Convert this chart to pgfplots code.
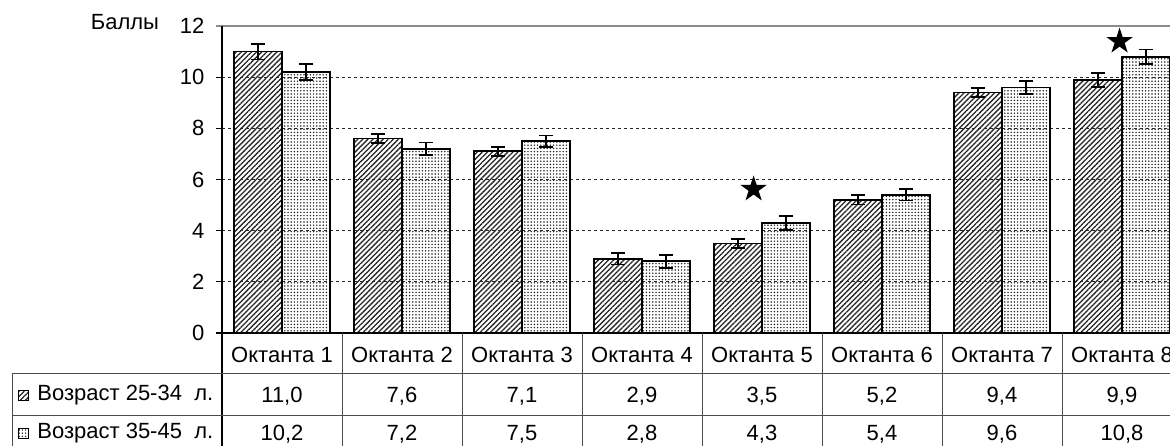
\documentclass[border=0pt]{standalone}
\usepackage{pgfplots}
\pgfplotsset{compat=1.18}
\usepackage{pgfplotstable}
\usepackage{fontspec}
\setmainfont{Liberation Sans}
\usetikzlibrary{patterns.meta}

\pgfplotstableread{
x  a     ea    b     eb
0  11.0  0.31  10.2  0.31
1  7.6   0.17  7.2   0.25
2  7.1   0.17  7.5   0.22
3  2.9   0.22  2.8   0.25
4  3.5   0.17  4.3   0.27
5  5.2   0.18  5.4   0.22
6  9.4   0.17  9.6   0.25
7  9.9   0.27  10.8  0.28
}\data

\pgfdeclareplotmark{fstar}{%
  \pgfpathmoveto{\pgfpointpolar{90}{\pgfplotmarksize}}%
  \pgfpathlineto{\pgfpointpolar{126}{0.382\pgfplotmarksize}}%
  \pgfpathlineto{\pgfpointpolar{162}{\pgfplotmarksize}}%
  \pgfpathlineto{\pgfpointpolar{198}{0.382\pgfplotmarksize}}%
  \pgfpathlineto{\pgfpointpolar{234}{\pgfplotmarksize}}%
  \pgfpathlineto{\pgfpointpolar{270}{0.382\pgfplotmarksize}}%
  \pgfpathlineto{\pgfpointpolar{306}{\pgfplotmarksize}}%
  \pgfpathlineto{\pgfpointpolar{342}{0.382\pgfplotmarksize}}%
  \pgfpathlineto{\pgfpointpolar{18}{\pgfplotmarksize}}%
  \pgfpathlineto{\pgfpointpolar{54}{0.382\pgfplotmarksize}}%
  \pgfpathclose
  \pgfusepathqfill
}

\tikzset{
  hatchA/.style={pattern={Lines[angle=45,distance=1.8pt,line width=0.65pt]},pattern color=black!85},
  dotsB/.style={pattern={Dots[radius=0.42pt,distance=1.6pt]},pattern color=black!85},
}

\begin{document}
\fontsize{11}{13}\selectfont
\begin{tikzpicture}
\useasboundingbox (0,0) rectangle (585pt,223pt);
\begin{axis}[
  name=ax, at={(111pt,56.5pt)}, anchor=south west,
  scale only axis, width=474pt, height=153.5pt,
  xmin=-0.5, xmax=7.4, ymin=0, ymax=12,
  axis line style={draw=none},
  xtick=\empty,
  minor xtick={0.5,1.5,...,6.5},
  xminorgrids=true,
  minor tick length=0pt,
  ytick={0,2,...,12},
  ymajorgrids=true,
  grid style={black!85, line width=0.45pt, dash pattern=on 1.6pt off 1.4pt},
  minor grid style={black!85, line width=0.45pt, dash pattern=on 1.6pt off 1.4pt},
  tick align=outside, ytick pos=left, major tick length=3pt,
  tick style={black, line width=0.5pt},
  yticklabel style={font=\fontsize{11}{13}\selectfont, xshift=-2pt},
  /pgf/number format/assume math mode=true,
  clip=false,
]
\addplot[ybar, bar width=24pt, bar shift=0pt, draw=black, line width=0.9pt, hatchA,
  error bars/.cd, y dir=both, y explicit,
  error bar style={line width=0.9pt, black, solid},
  error mark options={rotate=90, mark size=3.4pt, line width=0.9pt, black}]
  table[x expr=\thisrow{x}-0.2, y=a, y error=ea]{\data};
\addplot[ybar, bar width=24pt, bar shift=0pt, draw=black, line width=0.9pt, dotsB,
  error bars/.cd, y dir=both, y explicit,
  error bar style={line width=0.9pt, black, solid},
  error mark options={rotate=90, mark size=3.4pt, line width=0.9pt, black}]
  table[x expr=\thisrow{x}+0.2, y=b, y error=eb]{\data};
\addplot[only marks, mark=fstar, mark size=6.9pt, black] coordinates {(3.93,5.62) (6.98,11.4)};
\end{axis}
\begin{scope}[x=0.5pt, y=-0.5pt, shift={(0pt,223pt)}]
  % axis box lines
  \draw[black!45, line width=0.8pt] (216,26) -- (1170,26);
  \draw[black, line width=0.8pt] (222,26) -- (222,446);
  \draw[black, line width=0.8pt] (216,333) -- (1170,333);
  % table lines
  \foreach \i in {1,...,7} \draw[black!70, line width=0.5pt] (222+120*\i,333) -- (222+120*\i,446);
  \draw[black!70, line width=0.5pt] (12,373) -- (1170,373);
  \draw[black!70, line width=0.5pt] (12,415) -- (1170,415);
  \draw[black!70, line width=0.5pt] (12,373) -- (12,446);
  % y label
  \node at (125,22) {Баллы};
  % header
  \foreach \i in {1,...,8} \node at (162+120*\i,355) {Октанта \i};
  % legend keys
  \draw[hatchA, line width=0.4pt] (18,390) rectangle (28,400);
  \draw[dotsB, line width=0.4pt] (18,428) rectangle (28,438);
  \node[anchor=west, inner sep=0pt] at (37,395) {Возраст 25-34\ \ л.};
  \node[anchor=west, inner sep=0pt] at (37,433) {Возраст 35-45\ \ л.};
  % values row 1
  \node at (282,396) {11,0};
  \node at (402,396) {7,6};
  \node at (522,396) {7,1};
  \node at (642,396) {2,9};
  \node at (762,396) {3,5};
  \node at (882,396) {5,2};
  \node at (1002,396) {9,4};
  \node at (1122,396) {9,9};
  % values row 2
  \node at (282,434) {10,2};
  \node at (402,434) {7,2};
  \node at (522,434) {7,5};
  \node at (642,434) {2,8};
  \node at (762,434) {4,3};
  \node at (882,434) {5,4};
  \node at (1002,434) {9,6};
  \node at (1122,434) {10,8};
\end{scope}
\end{tikzpicture}
\end{document}
